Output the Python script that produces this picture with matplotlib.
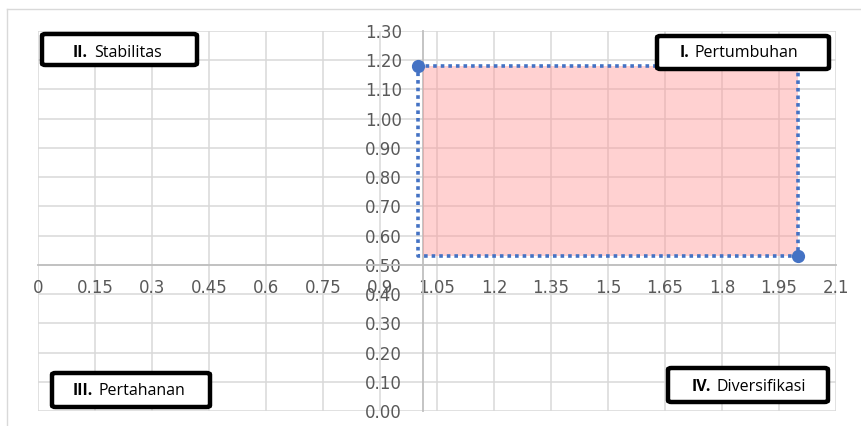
import matplotlib.pyplot as plt
import numpy as np
from matplotlib.patches import FancyBboxPatch
from matplotlib.lines import Line2D

# Strategy position (two corner points of the quadrant area)
point_x = [1.0, 2.0]
point_y = [1.18, 0.53]

# Axis crossing points
cross_x = 1.013
cross_y = 0.50

x_ticks = [0, 0.15, 0.3, 0.45, 0.6, 0.75, 0.9, 1.05, 1.2, 1.35, 1.5, 1.65, 1.8, 1.95, 2.1]
x_tick_labels = ['0', '0.15', '0.3', '0.45', '0.6', '0.75', '0.9', '1.05', '1.2',
                 '1.35', '1.5', '1.65', '1.8', '1.95', '2.1']
y_ticks = [0.0, 0.1, 0.2, 0.3, 0.4, 0.5, 0.6, 0.7, 0.8, 0.9, 1.0, 1.1, 1.2, 1.3]
y_tick_labels = ['%.2f' % v for v in y_ticks]

# Quadrant labels: (roman numeral, name, box in pixels left/top/right/bottom, text x split, baseline y)
quadrants = [
    ('II.', 'Stabilitas', (42, 34, 197, 65), 88, 57),
    ('I.', 'Pertumbuhan', (657, 36, 829, 69), 689, 57),
    ('III.', 'Pertahanan', (52, 373, 210, 407), 93, 395),
    ('IV.', 'Diversifikasi', (668, 368, 828, 402), 711, 391),
]

W, H = 862, 426
fig = plt.figure(figsize=(W / 100, H / 100), dpi=100)
ax = fig.add_axes([38 / W, (H - 411) / H, 798 / W, 380 / H])

blue = '#4472c4'
grid_c = '#d9d9d9'
axis_c = '#bfbfbf'
label_c = '#595959'

ax.set_xlim(0, 2.1)
ax.set_ylim(0, 1.3)
ax.set_xticks(x_ticks)
ax.set_xticklabels(x_tick_labels)
ax.set_yticks(y_ticks)
ax.set_yticklabels(y_tick_labels)
ax.grid(True, color=grid_c, lw=1.1, zorder=0)
ax.set_axisbelow(True)

for side in ['top', 'right']:
    ax.spines[side].set_visible(False)
ax.spines['left'].set_position(('data', cross_x))
ax.spines['bottom'].set_position(('data', cross_y))
for side in ['left', 'bottom']:
    ax.spines[side].set_color(axis_c)
    ax.spines[side].set_linewidth(1.3)
    ax.spines[side].set_zorder(1)

ax.tick_params(axis='x', length=0, pad=10.5, labelsize=12, labelcolor=label_c)
ax.tick_params(axis='y', length=0, pad=15, labelsize=12, labelcolor=label_c)

# Shaded strategy area
ax.fill_between([cross_x, point_x[1]], point_y[1], point_y[0],
                color='#ff9999', alpha=0.45, lw=0, zorder=2)

# Dotted outline of the area and the two corner points
rect_x = [point_x[0], point_x[1], point_x[1], point_x[0], point_x[0]]
rect_y = [point_y[0], point_y[0], point_y[1], point_y[1], point_y[0]]
ax.plot(rect_x, rect_y, color=blue, lw=2.6, linestyle=(0, (1, 1.1)),
        dash_capstyle='butt', zorder=3, clip_on=False)
ax.plot(point_x, point_y, 'o', color=blue, ms=8.5, zorder=4, clip_on=False)

# Light frame around the chart area
fig.add_artist(Line2D([7 / W, 7 / W], [0, 1 - 9 / H], color='#d9d9d9', lw=1.0))
fig.add_artist(Line2D([7 / W, 1], [1 - 9 / H, 1 - 9 / H], color='#d9d9d9', lw=1.0))

# Quadrant label boxes
for numeral, name, (l, t, r, b), split, ty in quadrants:
    box = FancyBboxPatch((l / W, 1 - b / H), (r - l) / W, (b - t) / H,
                         boxstyle='round,pad=0,rounding_size=0.004',
                         transform=fig.transFigure, facecolor='white',
                         edgecolor='black', lw=3.2, zorder=10)
    fig.add_artist(box)
    fig.text(split / W, 1 - ty / H, numeral, ha='right', va='baseline',
             fontsize=11.5, fontweight='bold', family='Open Sans', zorder=11)
    fig.text((split + 6) / W, 1 - ty / H, name, ha='left', va='baseline',
             fontsize=11.5, family='Open Sans', zorder=11)

fig.savefig('out.png', dpi=100)
